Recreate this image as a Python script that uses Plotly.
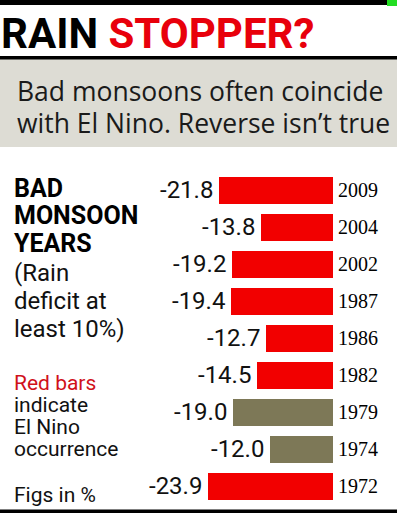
import plotly.graph_objects as go

W, H = 397, 513

years = ["2009", "2004", "2002", "1987", "1986", "1982", "1979", "1974", "1972"]
deficit = [-21.8, -13.8, -19.2, -19.4, -12.7, -14.5, -19.0, -12.0, -23.9]
el_nino = [True, True, True, True, True, True, False, False, True]

title_black = "RAIN"
title_red = "STOPPER?"
subtitle_lines = ["Bad monsoons often coincide", "with El Nino. Reverse isn\u2019t true"]
bold_lines = ["BAD", "MONSOON", "YEARS"]
note_lines = ["(Rain", "deficit at", "least 10%)"]
legend_red = "Red bars"
legend_lines = ["indicate", "El Nino", "occurrence"]
figs_note = "Figs in %"

RED = "#f20000"
OLIVE = "#7d7857"
GRAY = "#dddcd4"

def px(x):
    return x / W

def py(y):
    return 1 - y / H

colors = [RED if e else OLIVE for e in el_nino]

fig = go.Figure()
fig.add_trace(go.Bar(
    y=years, x=deficit, orientation="h",
    marker=dict(color=colors, line=dict(width=0)),
    width=0.73, hoverinfo="skip",
))

shapes = [
    dict(type="rect", xref="paper", yref="paper", x0=0, x1=1, y0=py(5), y1=1,
         fillcolor="black", line=dict(width=0), layer="below"),
    dict(type="rect", xref="paper", yref="paper", x0=px(387), x1=1, y0=py(6), y1=1,
         fillcolor="#22dd22", line=dict(width=0), layer="below"),
    dict(type="rect", xref="paper", yref="paper", x0=0, x1=1, y0=py(147), y1=py(59),
         fillcolor=GRAY, line=dict(width=0), layer="below"),
    dict(type="rect", xref="paper", yref="paper", x0=0, x1=1, y0=py(59.5), y1=py(56),
         fillcolor="black", line=dict(width=0), layer="below"),
    dict(type="rect", xref="paper", yref="paper", x0=0, x1=1, y0=0, y1=py(509.5),
         fillcolor="black", line=dict(width=0), layer="below"),
]

ann = []
# value labels, anchored at each bar's end (category axis -> serial index)
for i, v in enumerate(deficit):
    ann.append(dict(xref="x", yref="y", x=v, y=i, xanchor="right", yanchor="middle",
                    xshift=-4, showarrow=False, text=f"{v:.1f}",
                    font=dict(family="Roboto", size=24, color="#111111")))

def text(x, baseline, s, size, family, color="black", bold=False):
    t = f"<b>{s}</b>" if bold else s
    ann.append(dict(xref="paper", yref="paper", x=px(x), y=py(baseline - 0.35 * size),
                    xanchor="left", yanchor="middle", showarrow=False, text=t,
                    font=dict(family=family, size=size, color=color)))

text(-1, 48, f"{title_black} <span style='color:#e8000b'>{title_red}</span>", 42,
     "Roboto", bold=True)
for s, b in zip(subtitle_lines, [100, 132]):
    text(15, b, s, 26.5, "Open Sans", color="#1a1a1a")
for s, b in zip(bold_lines, [197, 224.5, 252]):
    text(12, b, s, 25, "Roboto", bold=True)
for s, b in zip(note_lines, [281, 309, 337]):
    text(12, b, s, 24, "Roboto", color="#111111")
text(12, 390, legend_red, 21, "Roboto", color="#d0111a")
for s, b in zip(legend_lines, [412, 434, 456]):
    text(12, b, s, 21, "Roboto", color="#111111")
text(12, 502, figs_note, 21, "Roboto", color="#111111")

fig.update_layout(
    width=W, height=H, margin=dict(l=0, r=0, t=0, b=0),
    paper_bgcolor="white", plot_bgcolor="rgba(0,0,0,0)",
    showlegend=False, shapes=shapes, annotations=ann, bargap=0,
    xaxis=dict(range=[-40, 0], domain=[px(123), px(333)], visible=False, fixedrange=True),
    yaxis=dict(type="category", categoryorder="array", categoryarray=years,
               range=[len(years) - 0.5, -0.5], domain=[py(504.5), py(172)],
               side="right", showgrid=False, zeroline=False, showline=False, ticks="",
               ticklabelstandoff=4, fixedrange=True,
               tickfont=dict(family="Liberation Serif", size=20, color="black")),
)

fig.write_html("out.html", config={"displayModeBar": False},
               post_script="document.body.style.margin='0';document.body.style.overflow='hidden';")
